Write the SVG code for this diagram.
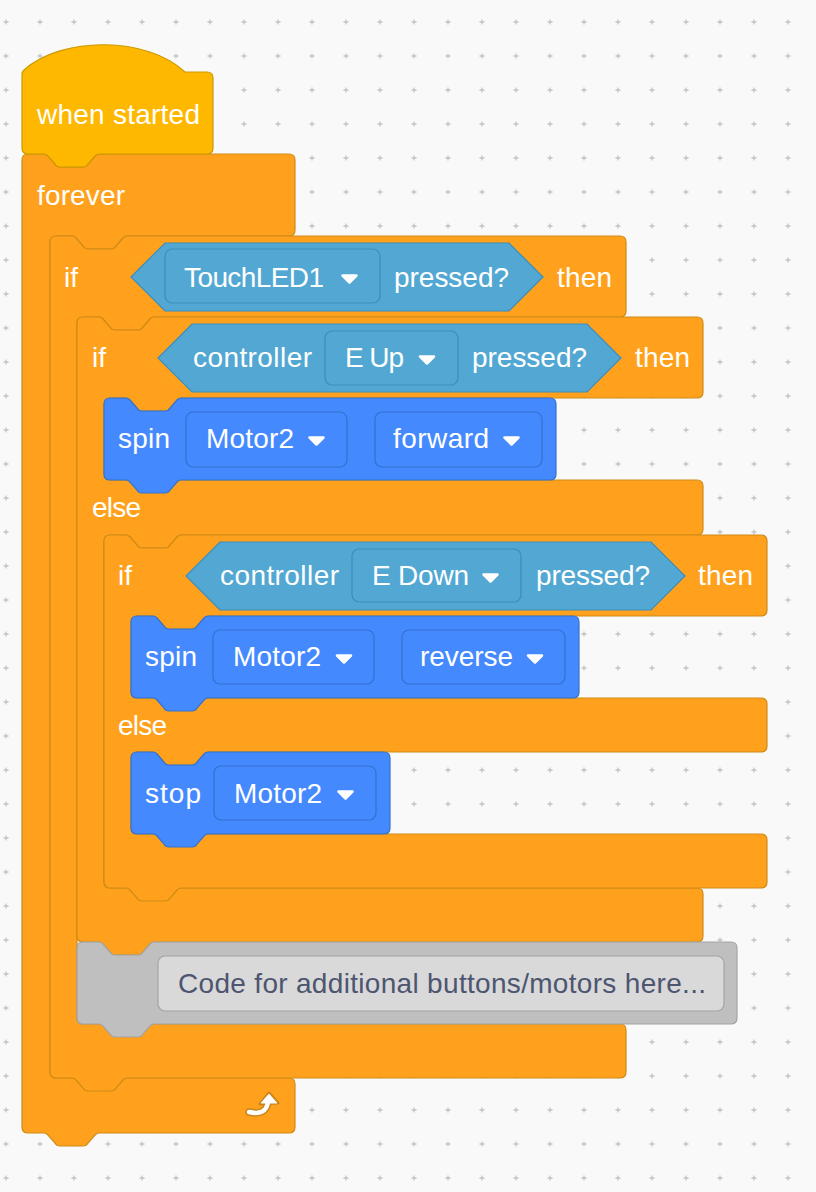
<svg xmlns="http://www.w3.org/2000/svg" width="816" height="1192" viewBox="0 0 816 1192">
<style>
.ctl{fill:#ffa11c;stroke:#cf8b17;stroke-width:1.2}
.hat{fill:#ffb800;stroke:#cc9900;stroke-width:1.2}
.mot{fill:#4589ff;stroke:#3373cc;stroke-width:1.2}
.sen{fill:#52a8d3;stroke:#3a8dbd;stroke-width:1.2}
.dds{fill:#52a8d3;stroke:#3a8dbd;stroke-width:1.2}
.ddm{fill:#4589ff;stroke:#3570d0;stroke-width:1.2}
.gry{fill:#bfbfbf;stroke:#a4a4a4;stroke-width:1.2}
.fld{fill:#d9d9d9;stroke:#a4a4a4;stroke-width:1.2}
text{font-family:"Liberation Sans",Arial,Helvetica,sans-serif;font-size:28px;fill:#fff}
.dark{fill:#4d5570}
</style>
<defs>
<pattern id="grid" x="0" y="0" width="34" height="34" patternUnits="userSpaceOnUse">
<path d="M3.5 22H8.5M6 19.5V24.5" stroke="#c4c4c4" stroke-width="1.3"/>
</pattern>
<path id="dd" d="M-7,-3.5 L7,-3.5 L0,3.5 Z" fill="#fff" stroke="#fff" stroke-width="2.5" stroke-linejoin="round"/>
</defs>
<rect width="816" height="1192" fill="#f9f9f9"/>
<rect width="816" height="1192" fill="url(#grid)"/>
<g id="connectors"/>

<g id="forever">
<path class="ctl" d="M22,160 Q22,154 28,154 L44,154 c 2,0 3,1 4,2 l 7,8 c 1,2 3,3 5,3 h 23 c 2,0 4,-1 5,-3 l 7,-8 c 1,-1 2,-2 4,-2 H289 Q295,154 295,160 V230 Q295,236 289,236 H127 c -2,0 -3,1 -4,2 l -7,8 c -1,2 -3,3 -5,3 h -23 c -2,0 -4,-1 -5,-3 l -7,-8 c -1,-1 -2,-2 -4,-2 H56 Q50,236 50,242 V1072 Q50,1078 56,1078 H289 Q295,1078 295,1084 V1127 Q295,1133 289,1133 H99 c -2,0 -3,1 -4,2 l -7,8 c -1,2 -3,3 -5,3 h -23 c -2,0 -4,-1 -5,-3 l -7,-8 c -1,-1 -2,-2 -4,-2 H28 Q22,1133 22,1127 Z"/>
<text x="37" y="205" textLength="88">forever</text>
<path d="M249,1112 Q266,1116 268,1102" fill="none" stroke="#c98518" stroke-width="7.5" stroke-linecap="round"/>
<path d="M260,1104 L269,1093 L278,1103 Z" fill="#c98518" stroke="#c98518" stroke-width="3" stroke-linejoin="round"/>
<path d="M249,1112 Q266,1116 268,1102" fill="none" stroke="#fff" stroke-width="4.5" stroke-linecap="round"/>
<path d="M261.5,1103 L269,1094.5 L276.5,1103 Z" fill="#fff" stroke="#fff" stroke-width="1.2" stroke-linejoin="round"/>
</g>

<g id="if1">
<path class="ctl" d="M50,242 Q50,236 56,236 L72,236 c 2,0 3,1 4,2 l 7,8 c 1,2 3,3 5,3 h 23 c 2,0 4,-1 5,-3 l 7,-8 c 1,-1 2,-2 4,-2 H620 Q626,236 626,242 V311 Q626,317 620,317 H154 c -2,0 -3,1 -4,2 l -7,8 c -1,2 -3,3 -5,3 h -23 c -2,0 -4,-1 -5,-3 l -7,-8 c -1,-1 -2,-2 -4,-2 H83 Q77,317 77,323 V1018 Q77,1024 83,1024 H620 Q626,1024 626,1030 V1072 Q626,1078 620,1078 H127 c -2,0 -3,1 -4,2 l -7,8 c -1,2 -3,3 -5,3 h -23 c -2,0 -4,-1 -5,-3 l -7,-8 c -1,-1 -2,-2 -4,-2 H56 Q50,1078 50,1072 Z"/>
<text x="64" y="287">if</text>
<polygon class="sen" points="131,277 165,243 509,243 543,277 509,311 165,311"/>
<rect class="dds" x="165" y="249" width="215" height="54" rx="7"/>
<text x="184" y="287" textLength="140">TouchLED1</text>
<use href="#dd" x="349.5" y="279"/>
<text x="394" y="287" textLength="115">pressed?</text>
<text x="557" y="287" textLength="55">then</text>
</g>

<g id="if2">
<path class="ctl" d="M77,323 Q77,317 83,317 L99,317 c 2,0 3,1 4,2 l 7,8 c 1,2 3,3 5,3 h 23 c 2,0 4,-1 5,-3 l 7,-8 c 1,-1 2,-2 4,-2 H697 Q703,317 703,323 V392 Q703,398 697,398 H181 c -2,0 -3,1 -4,2 l -7,8 c -1,2 -3,3 -5,3 h -23 c -2,0 -4,-1 -5,-3 l -7,-8 c -1,-1 -2,-2 -4,-2 H110 Q104,398 104,404 V474 Q104,480 110,480 H697 Q703,480 703,486 V529 Q703,535 697,535 H181 c -2,0 -3,1 -4,2 l -7,8 c -1,2 -3,3 -5,3 h -23 c -2,0 -4,-1 -5,-3 l -7,-8 c -1,-1 -2,-2 -4,-2 H110 Q104,535 104,541 V882 Q104,888 110,888 H697 Q703,888 703,894 V936 Q703,942 697,942 H154 c -2,0 -3,1 -4,2 l -7,8 c -1,2 -3,3 -5,3 h -23 c -2,0 -4,-1 -5,-3 l -7,-8 c -1,-1 -2,-2 -4,-2 H83 Q77,942 77,936 Z"/>
<text x="92" y="367">if</text>
<polygon class="sen" points="158,358 192,324 587,324 621,358 587,392 192,392"/>
<text x="193" y="367" textLength="119">controller</text>
<rect class="dds" x="325" y="331" width="133" height="54" rx="7"/>
<text x="345" y="367" textLength="59">E Up</text>
<use href="#dd" x="427" y="360"/>
<text x="472" y="367" textLength="115">pressed?</text>
<text x="635" y="367" textLength="55">then</text>
<text x="92" y="517" textLength="49">else</text>
</g>

<g id="if3">
<path class="ctl" d="M104,541 Q104,535 110,535 L126,535 c 2,0 3,1 4,2 l 7,8 c 1,2 3,3 5,3 h 23 c 2,0 4,-1 5,-3 l 7,-8 c 1,-1 2,-2 4,-2 H761 Q767,535 767,541 V610 Q767,616 761,616 H208 c -2,0 -3,1 -4,2 l -7,8 c -1,2 -3,3 -5,3 h -23 c -2,0 -4,-1 -5,-3 l -7,-8 c -1,-1 -2,-2 -4,-2 H137 Q131,616 131,622 V692 Q131,698 137,698 H761 Q767,698 767,704 V746 Q767,752 761,752 H208 c -2,0 -3,1 -4,2 l -7,8 c -1,2 -3,3 -5,3 h -23 c -2,0 -4,-1 -5,-3 l -7,-8 c -1,-1 -2,-2 -4,-2 H137 Q131,752 131,758 V828 Q131,834 137,834 H761 Q767,834 767,840 V882 Q767,888 761,888 H181 c -2,0 -3,1 -4,2 l -7,8 c -1,2 -3,3 -5,3 h -23 c -2,0 -4,-1 -5,-3 l -7,-8 c -1,-1 -2,-2 -4,-2 H110 Q104,888 104,882 Z"/>
<text x="118" y="585">if</text>
<polygon class="sen" points="186,576 220,542 651,542 685,576 651,610 220,610"/>
<text x="220" y="585" textLength="119">controller</text>
<rect class="dds" x="352" y="549" width="169" height="53" rx="7"/>
<text x="372" y="585" textLength="97">E Down</text>
<use href="#dd" x="490.5" y="578"/>
<text x="536" y="585" textLength="114">pressed?</text>
<text x="698" y="585" textLength="55">then</text>
<text x="118" y="735" textLength="49">else</text>
</g>

<g id="spin1">
<path class="mot" d="M104,404 Q104,398 110,398 L126,398 c 2,0 3,1 4,2 l 7,8 c 1,2 3,3 5,3 h 23 c 2,0 4,-1 5,-3 l 7,-8 c 1,-1 2,-2 4,-2 H550 Q556,398 556,404 V474 Q556,480 550,480 H181 c -2,0 -3,1 -4,2 l -7,8 c -1,2 -3,3 -5,3 h -23 c -2,0 -4,-1 -5,-3 l -7,-8 c -1,-1 -2,-2 -4,-2 H110 Q104,480 104,474 Z"/>
<text x="118" y="448" textLength="52">spin</text>
<rect class="ddm" x="186" y="412" width="161" height="55" rx="7"/>
<text x="206" y="448" textLength="88">Motor2</text>
<use href="#dd" x="316.5" y="441"/>
<rect class="ddm" x="375" y="412" width="167" height="55" rx="7"/>
<text x="393" y="448" textLength="96">forward</text>
<use href="#dd" x="511.5" y="441"/>
</g>

<g id="spin2">
<path class="mot" d="M131,622 Q131,616 137,616 L153,616 c 2,0 3,1 4,2 l 7,8 c 1,2 3,3 5,3 h 23 c 2,0 4,-1 5,-3 l 7,-8 c 1,-1 2,-2 4,-2 H573 Q579,616 579,622 V692 Q579,698 573,698 H208 c -2,0 -3,1 -4,2 l -7,8 c -1,2 -3,3 -5,3 h -23 c -2,0 -4,-1 -5,-3 l -7,-8 c -1,-1 -2,-2 -4,-2 H137 Q131,698 131,692 Z"/>
<text x="145" y="666" textLength="52">spin</text>
<rect class="ddm" x="213" y="630" width="161" height="54" rx="7"/>
<text x="233" y="666" textLength="88">Motor2</text>
<use href="#dd" x="344" y="659"/>
<rect class="ddm" x="402" y="630" width="163" height="54" rx="7"/>
<text x="420" y="666" textLength="93">reverse</text>
<use href="#dd" x="535" y="659"/>
</g>

<g id="stop">
<path class="mot" d="M131,758 Q131,752 137,752 L153,752 c 2,0 3,1 4,2 l 7,8 c 1,2 3,3 5,3 h 23 c 2,0 4,-1 5,-3 l 7,-8 c 1,-1 2,-2 4,-2 H384 Q390,752 390,758 V828 Q390,834 384,834 H208 c -2,0 -3,1 -4,2 l -7,8 c -1,2 -3,3 -5,3 h -23 c -2,0 -4,-1 -5,-3 l -7,-8 c -1,-1 -2,-2 -4,-2 H137 Q131,834 131,828 Z"/>
<text x="145" y="803" textLength="56">stop</text>
<rect class="ddm" x="214" y="766" width="162" height="54" rx="7"/>
<text x="234" y="803" textLength="88">Motor2</text>
<use href="#dd" x="345.5" y="795"/>
</g>

<g id="comment-block">
<path class="gry" d="M77,948 Q77,942 83,942 L99,942 c 2,0 3,1 4,2 l 7,8 c 1,2 3,3 5,3 h 23 c 2,0 4,-1 5,-3 l 7,-8 c 1,-1 2,-2 4,-2 H731 Q737,942 737,948 V1018 Q737,1024 731,1024 H154 c -2,0 -3,1 -4,2 l -7,8 c -1,2 -3,3 -5,3 h -23 c -2,0 -4,-1 -5,-3 l -7,-8 c -1,-1 -2,-2 -4,-2 H83 Q77,1024 77,1018 Z"/>
<rect class="fld" x="158" y="956" width="566" height="55" rx="7"/>
<text class="dark" x="178" y="993" textLength="528">Code for additional buttons/motors here...</text>
</g>

<g id="when-started">
<path class="hat" d="M22,74 Q22,72 24,70 C62,36 147,36 185,72 H207 Q213,72 213,78 V148 Q213,154 207,154 H99 c -2,0 -3,1 -4,2 l -7,8 c -1,2 -3,3 -5,3 h -23 c -2,0 -4,-1 -5,-3 l -7,-8 c -1,-1 -2,-2 -4,-2 H28 Q22,154 22,148 Z"/>
<text x="37" y="124" textLength="163">when started</text>
</g>
</svg>
